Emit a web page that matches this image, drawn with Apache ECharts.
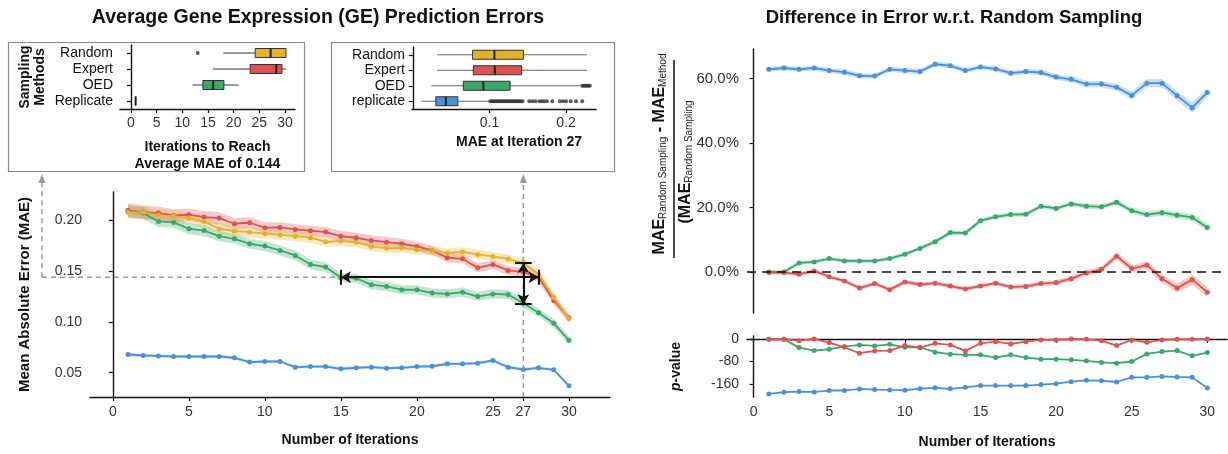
<!DOCTYPE html>
<html><head><meta charset="utf-8">
<script src="https://cdn.jsdelivr.net/npm/echarts@6/dist/echarts.min.js"></script>
<style>html,body{margin:0;padding:0;background:#fff}#c{width:1228px;height:454px}</style>
</head><body><div id="c"></div>
<script>
// ---------- DATA ----------
const iterations = [1,2,3,4,5,6,7,8,9,10,11,12,13,14,15,16,17,18,19,20,21,22,23,24,25,26,27,28,29,30];
const mainXTicks = [0,5,10,15,20,25,27,30];
const mainYTicks = [0.05,0.10,0.15,0.20];

const maeRandom = [0.208,0.208,0.205,0.2043,0.2023,0.199,0.1918,0.1895,0.1885,0.1869,0.1859,0.1845,0.183,0.179,0.1796,0.1786,0.1744,0.1725,0.173,0.171,0.170,0.168,0.169,0.1665,0.1645,0.162,0.158,0.147,0.1244,0.103];
const maeExpert = [0.2099,0.2082,0.2072,0.2049,0.2056,0.2033,0.2023,0.1967,0.1977,0.1928,0.1931,0.1911,0.1898,0.1885,0.1845,0.1829,0.1803,0.1786,0.177,0.1744,0.1704,0.1632,0.1622,0.1533,0.1566,0.1507,0.149,0.1441,0.1211,0.104];
const maeOED = [0.209,0.2072,0.199,0.198,0.1918,0.190,0.1845,0.1819,0.177,0.1747,0.1704,0.1655,0.1566,0.154,0.1436,0.143,0.1367,0.135,0.1317,0.1317,0.1284,0.1276,0.1293,0.125,0.1276,0.127,0.1184,0.1091,0.0986,0.0818];
const maeReplicate = [0.0679,0.0669,0.0665,0.0659,0.0659,0.0659,0.0659,0.0646,0.0604,0.061,0.061,0.0554,0.056,0.056,0.0538,0.0548,0.0554,0.0544,0.0548,0.056,0.0563,0.0587,0.0587,0.0593,0.062,0.0554,0.0531,0.0548,0.0528,0.037];
// half-width of shaded bands
const bandRandom = [0.006,0.006,0.006,0.006,0.006,0.0055,0.0055,0.0055,0.0055,0.005,0.005,0.005,0.005,0.005,0.005,0.005,0.0045,0.0045,0.0045,0.0045,0.0045,0.0045,0.0045,0.0045,0.0045,0.0045,0.0045,0.0045,0.0045,0.004];
const bandExpert = [0.007,0.0065,0.0065,0.006,0.006,0.006,0.006,0.0055,0.0055,0.0055,0.005,0.005,0.005,0.005,0.005,0.005,0.005,0.005,0.005,0.0045,0.0045,0.0045,0.0045,0.0045,0.0045,0.0045,0.0045,0.0045,0.0045,0.004];
const bandOED = [0.006,0.006,0.0055,0.0055,0.0055,0.0055,0.005,0.005,0.005,0.005,0.005,0.005,0.005,0.0045,0.0045,0.0045,0.0045,0.0045,0.0045,0.0045,0.0045,0.0045,0.0045,0.0045,0.0045,0.0045,0.0045,0.004,0.004,0.004];
const bandReplicate = [0.0015,0.0015,0.0015,0.0015,0.0015,0.0015,0.0015,0.0015,0.0015,0.0015,0.0015,0.0015,0.0015,0.0015,0.0015,0.0015,0.0015,0.0015,0.0015,0.0015,0.0015,0.0015,0.0015,0.0015,0.0015,0.0015,0.0015,0.0015,0.0015,0.0015];

// inset 1: iterations to reach average MAE of 0.144 ([min, Q1, median, Q3, max])
const methodsInset1 = ['Random','Expert','OED','Replicate'];
const itersBox = [[18,24.2,27.2,30.2,30.2],[16,23.2,28.3,29.4,30.2],[12,14,16,18.1,21],[0.9,0.9,0.9,0.9,0.9]];
const itersOutliers = [[13,0]];
const inset1Ticks = [0,5,10,15,20,25,30];

// inset 2: MAE at iteration 27
const methodsInset2 = ['Random','Expert','OED','replicate'];
const maeBox = [[0.032,0.078,0.1065,0.1444,0.227],[0.032,0.079,0.107,0.142,0.227],[0.0244,0.066,0.092,0.127,0.218],[0.0116,0.0301,0.0431,0.0588,0.100]];
const maeOutliersOED = [0.221,0.223,0.225,0.227,0.229,0.231];
const maeOutliersReplicate = [0.101,0.103,0.105,0.107,0.109,0.111,0.113,0.115,0.117,0.119,0.121,0.123,0.125,0.127,0.129,0.131,0.133,0.135,0.137,0.139,0.141,0.143,0.152,0.156,0.160,0.165,0.168,0.171,0.175,0.182,0.192,0.196,0.200,0.206,0.213,0.221];
const inset2Ticks = [0.1,0.2];

// right: relative difference (%) w.r.t. random sampling
const pctReplicate = [62.9,63.3,62.9,63.3,62.5,62.0,60.9,60.8,62.9,62.5,62.2,64.5,64.0,62.5,63.6,63.0,61.7,62.2,61.9,60.5,59.8,58.3,58.3,57.3,54.8,58.6,58.6,54.7,51.0,55.7];
const pctOED = [0,0,2.8,3.1,4.15,3.4,3.4,3.4,4.15,5.5,7.3,9.4,12.2,12.1,15.9,17.1,17.8,17.9,20.4,19.7,21.1,20.4,20.2,21.6,19.0,17.8,18.4,17.6,16.9,13.8];
const pctExpert = [-0.2,-0.2,-0.7,0.3,-1.5,-2.8,-5.0,-3.6,-5.5,-3.1,-3.9,-3.5,-4.4,-5.3,-4.4,-3.5,-4.7,-4.5,-3.6,-3.3,-2.1,-0.3,0.8,4.9,1.05,2.1,-2.1,-5.0,-2.4,-6.3];
const pctBandReplicate = [0.8,0.8,0.8,0.8,0.8,0.8,0.8,0.8,0.8,0.8,0.8,0.8,0.8,0.8,0.8,0.8,0.8,0.8,0.9,0.9,0.9,1.0,1.0,1.0,1.2,1.2,1.3,1.4,1.6,1.5];
const pctBandOED = [0.6,0.6,0.6,0.6,0.6,0.6,0.6,0.6,0.6,0.6,0.6,0.7,0.7,0.7,0.7,0.7,0.7,0.7,0.7,0.7,0.8,0.8,0.8,0.8,0.9,0.9,1.0,1.0,1.1,1.2];
const pctBandExpert = [0.6,0.6,0.6,0.6,0.6,0.6,0.7,0.7,0.7,0.7,0.7,0.7,0.7,0.7,0.7,0.7,0.7,0.8,0.8,0.8,0.9,0.9,1.0,1.1,1.1,1.2,1.2,1.4,1.6,1.5];
const pctTicks = [0,20,40,60];

// right: p-values
const pExpert = [-1,-1,-5.9,0,-12.9,-29.4,-50.6,-42.3,-41,-23.5,-31,-15.3,-21,-42.3,-15.3,-9.4,-17.6,-9.4,-3.5,-3.5,0,-1,-5.9,-23.5,-3.5,-11.7,-3.5,-1,-1,0];
const pOED = [-1,-1,-30.6,-41,-36.4,-27,-21,-24.7,-18.8,-29.4,-29.4,-47,-54,-56.4,-56.4,-65.8,-56.4,-65.8,-71.7,-71.7,-74,-77.5,-83.4,-85.8,-79.9,-52.9,-44.6,-41.1,-59.9,-48.2];
const pReplicate = [-195,-189,-186.8,-188,-183,-183,-177.4,-179.7,-181,-182,-176.5,-173.5,-177,-171.5,-165.6,-165.6,-165.6,-165.6,-162,-158.6,-151.5,-146.8,-148,-152.7,-136.3,-136.3,-132.8,-135,-136.3,-173.9];
const pTicks = [0,-80,-160];
const rightXTicks = [0,5,10,15,20,25,30];

// ---------- STYLE ----------
const C = {random:'#E2B22F', expert:'#D95454', oed:'#3BA86A', replicate:'#4A92D6'};
const BOXCOLORS = [C.random, C.expert, C.oed, C.replicate];
const FONT = 'Liberation Sans, Arial, Helvetica, sans-serif';

const chart = echarts.init(document.getElementById('c'), null, {renderer:'canvas', width:1228, height:454});

function lineSeries(name, xi, data, color, z) {
  return {type:'line', name, xAxisIndex:xi, yAxisIndex:xi, data: iterations.map((it,i)=>[it, data[i]]),
    symbol:'circle', symbolSize:5, showSymbol:true, lineStyle:{color, width:1.8}, itemStyle:{color},
    z, silent:true, animation:false};
}
// shaded confidence band: one polygon through the axis scales
function bandSeries(xi, data, half, color, opacity) {
  const rows = iterations.map((it,i)=>[it, data[i]-half[i], data[i]+half[i]]);
  return {type:'custom', xAxisIndex:xi, yAxisIndex:xi, data: rows, encode:{x:0, y:[1,2]}, z:1, silent:true,
    renderItem(params, api) {
      if (params.dataIndex !== 0) return null;
      const pts = [];
      for (let i = 0; i < rows.length; i++) pts.push(api.coord([rows[i][0], rows[i][2]]));
      for (let i = rows.length - 1; i >= 0; i--) pts.push(api.coord([rows[i][0], rows[i][1]]));
      return {type:'polygon', shape:{points:pts}, style:{fill:color, opacity}};
    }};
}
// ggplot-style horizontal box plot (no whisker caps)
function boxSeries(xi, stats, whiskerColor) {
  return {type:'custom', xAxisIndex:xi, yAxisIndex:xi, silent:true, z:3,
    data: stats.map((s,i)=>[i, ...s]), encode:{x:[1,2,3,4,5], y:0},
    renderItem(params, api) {
      const cat = api.value(0);
      const p = k => api.coord([api.value(k), cat]);
      const yc = p(1)[1], h = 9;
      const color = BOXCOLORS[params.dataIndex];
      return {type:'group', children:[
        {type:'line', shape:{x1:p(1)[0], y1:yc, x2:p(2)[0], y2:yc}, style:{stroke:whiskerColor, lineWidth:1}},
        {type:'line', shape:{x1:p(4)[0], y1:yc, x2:p(5)[0], y2:yc}, style:{stroke:whiskerColor, lineWidth:1}},
        {type:'rect', shape:{x:p(2)[0], y:yc-h/2, width:p(4)[0]-p(2)[0], height:h}, style:{fill:color, stroke:'#333', lineWidth:1}},
        {type:'line', shape:{x1:p(3)[0], y1:yc-h/2, x2:p(3)[0], y2:yc+h/2}, style:{stroke:'#222', lineWidth:2}}
      ]};
    }};
}
const axisLineBlack = {show:true, lineStyle:{color:'#111', width:1.4}};
const tickBlack = {show:true, length:4, lineStyle:{color:'#111', width:1.2}};
const nameStyle = {fontFamily:FONT, fontWeight:'bold', fontSize:14, color:'#111'};

const option = {
  animation:false,
  textStyle:{fontFamily:FONT},
  grid:[
    {left:90, top:192, width:520, height:205, containLabel:false, outerBoundsMode:'none'},
    {left:120, top:45, width:175, height:64, containLabel:false, outerBoundsMode:'none'},
    {left:412, top:47, width:184, height:62, containLabel:false, outerBoundsMode:'none'},
    {left:747, top:49, width:480, height:264, containLabel:false, outerBoundsMode:'none'},
    {left:747, top:336, width:480, height:61, containLabel:false, outerBoundsMode:'none'}
  ],
  xAxis:[
    {gridIndex:0, type:'value', min:-1.5, max:32.7, splitLine:{show:false}, axisLine:axisLineBlack,
      axisTick:{...tickBlack, customValues:mainXTicks},
      axisLabel:{customValues:mainXTicks, fontSize:14, color:'#333', margin:8},
      name:'Number of Iterations', nameLocation:'middle', nameGap:36, nameTextStyle:nameStyle},
    {gridIndex:1, type:'value', min:-2.14, max:31.95, splitLine:{show:false}, axisLine:axisLineBlack,
      axisTick:{...tickBlack, customValues:inset1Ticks},
      axisLabel:{customValues:inset1Ticks, fontSize:14, color:'#333', margin:7},
      name:'Iterations to Reach\nAverage MAE of 0.144', nameLocation:'middle', nameGap:30, nameTextStyle:{...nameStyle, lineHeight:17}},
    {gridIndex:2, type:'value', min:-0.001, max:0.239, splitLine:{show:false}, axisLine:axisLineBlack,
      axisTick:{...tickBlack, customValues:inset2Ticks},
      axisLabel:{customValues:inset2Ticks, fontSize:14, color:'#333', margin:7, formatter:v=>v.toFixed(1)},
      name:'MAE at Iteration 27', nameLocation:'middle', nameGap:26, nameTextStyle:{...nameStyle, padding:[0,0,0,30]}},
    {gridIndex:3, type:'value', min:-0.44, max:31.3, show:false},
    {gridIndex:4, type:'value', min:-0.44, max:31.3, splitLine:{show:false}, axisLine:axisLineBlack,
      axisTick:{...tickBlack, customValues:rightXTicks},
      axisLabel:{customValues:rightXTicks, fontSize:14, color:'#333', margin:8},
      name:'Number of Iterations', nameLocation:'middle', nameGap:38, nameTextStyle:nameStyle}
  ],
  yAxis:[
    {gridIndex:0, type:'value', min:0.026, max:0.228, splitLine:{show:false}, axisLine:axisLineBlack,
      axisTick:{...tickBlack, customValues:mainYTicks},
      axisLabel:{customValues:mainYTicks, fontSize:14, color:'#333', margin:8, formatter:v=>v.toFixed(2)},
      name:'Mean Absolute Error (MAE)', nameLocation:'middle', nameGap:58, nameTextStyle:{...nameStyle, fontSize:15}},
    {gridIndex:1, type:'category', data:methodsInset1, inverse:true, axisLine:axisLineBlack,
      axisTick:{...tickBlack, alignWithLabel:true, interval:0}, axisLabel:{interval:0, fontSize:14, color:'#111', margin:7},
      name:'Sampling\nMethods', nameLocation:'middle', nameGap:72, nameTextStyle:{...nameStyle, fontSize:14, lineHeight:15}},
    {gridIndex:2, type:'category', data:methodsInset2, inverse:true, axisLine:axisLineBlack,
      axisTick:{...tickBlack, alignWithLabel:true, interval:0}, axisLabel:{interval:0, fontSize:14, color:'#111', margin:7}},
    {gridIndex:3, type:'value', min:-12.75, max:69.2, splitLine:{show:false}, axisLine:axisLineBlack,
      axisTick:{...tickBlack, customValues:pctTicks},
      axisLabel:{customValues:pctTicks, fontSize:15, color:'#333', margin:8, formatter:v=>v.toFixed(1)+'%'}},
    {gridIndex:4, type:'value', min:-206, max:10.6, splitLine:{show:false}, axisLine:axisLineBlack,
      axisTick:{...tickBlack, customValues:pTicks},
      axisLabel:{customValues:pTicks, fontSize:14, color:'#333', margin:8},
      name:'{i|p}-value', nameLocation:'middle', nameGap:64,
      nameTextStyle:{...nameStyle, fontSize:14, rich:{i:{fontStyle:'italic', fontWeight:'bold', fontSize:14, fontFamily:FONT, color:'#111'}}}}
  ],
  series:[
    bandSeries(0, maeReplicate, bandReplicate, C.replicate, 0.3),
    bandSeries(0, maeOED, bandOED, C.oed, 0.3),
    bandSeries(0, maeExpert, bandExpert, C.expert, 0.3),
    bandSeries(0, maeRandom, bandRandom, C.random, 0.3),
    lineSeries('Replicate', 0, maeReplicate, C.replicate, 3),
    lineSeries('OED', 0, maeOED, C.oed, 3),
    lineSeries('Expert', 0, maeExpert, C.expert, 3),
    {...lineSeries('Random', 0, maeRandom, C.random, 4),
      markLine:{silent:true, symbol:['arrow','arrow'], symbolSize:[9,10], label:{show:false},
        lineStyle:{color:'#111', width:2, type:'solid'},
        data:[[{coord:[15,0.144]},{coord:[28,0.144]}],[{coord:[27,0.158]},{coord:[27,0.1175]}]]}},
    {type:'line', xAxisIndex:0, yAxisIndex:0, data:[], z:5,
      markLine:{silent:true, symbol:['none','none'], label:{show:false}, lineStyle:{color:'#111', width:2, type:'solid'},
        data:[[{coord:[15,0.1365]},{coord:[15,0.1515]}],[{coord:[28,0.1365]},{coord:[28,0.1515]}],
              [{coord:[26.45,0.158]},{coord:[27.55,0.158]}],[{coord:[26.45,0.1175]},{coord:[27.55,0.1175]}]]}},
    // inset 1
    boxSeries(1, itersBox, '#333'),
    {type:'scatter', xAxisIndex:1, yAxisIndex:1, symbolSize:4, itemStyle:{color:'#333'}, silent:true, data:itersOutliers},
    // inset 2
    boxSeries(2, maeBox, '#666'),
    {type:'scatter', xAxisIndex:2, yAxisIndex:2, symbolSize:4, itemStyle:{color:'#333'}, silent:true,
      data: maeOutliersOED.map(v=>[v,2]).concat(maeOutliersReplicate.map(v=>[v,3]))},
    // right top
    bandSeries(3, pctReplicate, pctBandReplicate, C.replicate, 0.3),
    bandSeries(3, pctOED, pctBandOED, C.oed, 0.3),
    bandSeries(3, pctExpert, pctBandExpert, C.expert, 0.3),
    lineSeries('Replicate %', 3, pctReplicate, C.replicate, 3),
    {...lineSeries('OED %', 3, pctOED, C.oed, 3),
      markLine:{silent:true, symbol:['none','none'], label:{show:false}, lineStyle:{color:'#111', width:1.5, type:[9,6]}, data:[{yAxis:0}]}},
    lineSeries('Expert %', 3, pctExpert, C.expert, 3),
    // right bottom
    lineSeries('Replicate p', 4, pReplicate, C.replicate, 3),
    lineSeries('OED p', 4, pOED, C.oed, 3),
    lineSeries('Expert p', 4, pExpert, C.expert, 4)
  ]
};
chart.setOption(option);

// annotation overlays computed from the axes
const p15 = chart.convertToPixel({gridIndex:0}, [15, 0.144]);
const p27 = chart.convertToPixel({gridIndex:0}, [27, 0.026]);
const xLink = 42, yTopArrow = 174;
const grey = '#9a9a9a';
const dash = {stroke:grey, lineWidth:1.5, lineDash:[5,4]};
const sub = {fontSize:10, fontFamily:FONT, fill:'#222', verticalAlign:'bottom', padding:[6,0,0,0]};
const big = {fontSize:16, fontWeight:'bold', fontFamily:FONT, fill:'#111'};
chart.setOption({graphic:[
  {type:'text', x:318, y:18, style:{text:'Average Gene Expression (GE) Prediction Errors', fontSize:19.5, fontWeight:'bold', fontFamily:FONT, fill:'#111', align:'center', verticalAlign:'middle'}},
  {type:'text', x:954, y:18, style:{text:'Difference in Error w.r.t. Random Sampling', fontSize:18.5, fontWeight:'bold', fontFamily:FONT, fill:'#111', align:'center', verticalAlign:'middle'}},
  {type:'rect', shape:{x:8.5, y:42.5, width:296, height:129}, style:{fill:'none', stroke:'#8a8a8a', lineWidth:1.2}},
  {type:'rect', shape:{x:331.5, y:42.5, width:283, height:129}, style:{fill:'none', stroke:'#8a8a8a', lineWidth:1.2}},
  {type:'line', shape:{x1:xLink, y1:p15[1], x2:p15[0], y2:p15[1]}, style:dash, z:2},
  {type:'line', shape:{x1:xLink, y1:p15[1], x2:xLink, y2:yTopArrow+6}, style:dash},
  {type:'polygon', shape:{points:[[xLink,yTopArrow],[xLink-3.5,yTopArrow+9],[xLink+3.5,yTopArrow+9]]}, style:{fill:grey}},
  {type:'line', shape:{x1:p27[0], y1:p27[1], x2:p27[0], y2:yTopArrow+6}, style:dash, z:2},
  {type:'polygon', shape:{points:[[p27[0],yTopArrow],[p27[0]-3.5,yTopArrow+9],[p27[0]+3.5,yTopArrow+9]]}, style:{fill:grey}},
  {type:'text', x:660, y:154, rotation:Math.PI/2,
    style:{text:'{b|MAE}{s|Random Sampling}{b| - MAE}{s|Method}', align:'center', verticalAlign:'middle', rich:{b:big, s:sub}}},
  {type:'line', shape:{x1:674, y1:60, x2:674, y2:258}, style:{stroke:'#111', lineWidth:1.5}},
  {type:'text', x:686, y:162, rotation:Math.PI/2,
    style:{text:'{b|(MAE}{s|Random Sampling}', align:'center', verticalAlign:'middle', rich:{b:big, s:sub}}}
]});
</script>
</body></html>
